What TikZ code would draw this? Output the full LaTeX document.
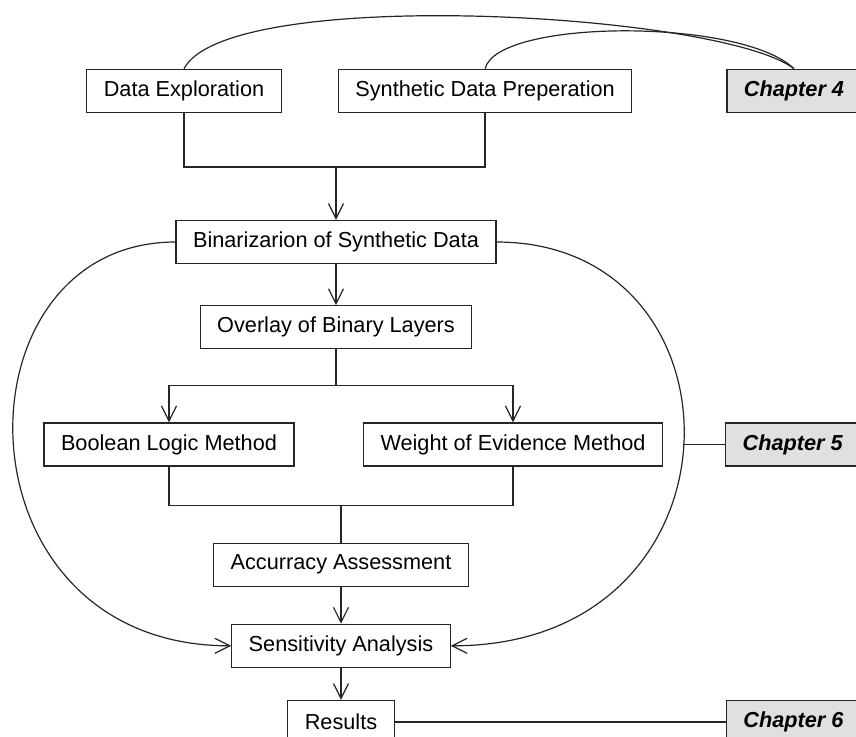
\documentclass[tikz,border=0pt]{standalone}
\usepackage{fontspec}
\setmainfont{Liberation Sans}
\usetikzlibrary{positioning,arrows.meta}

\begin{document}
\begin{tikzpicture}
\tikzstyle{box}=[rectangle, draw=black!85, line width=0.6pt, inner xsep=8.5pt, inner ysep=0pt, minimum height=21.5pt, font=\fontsize{10.85}{13}\selectfont]
\tikzstyle{chapter}=[box, fill=black!12, font=\fontsize{10.85}{13}\selectfont\bfseries\itshape]
\tikzstyle{connect}=[-{Straight Barb[length=7.5pt,width=7.5pt]}, line width=0.6pt, draw=black!85]
\tikzstyle{link}=[line width=0.6pt, draw=black!85]
\useasboundingbox (-168pt,121pt) rectangle (260pt,-247pt);
\clip (-168pt,121pt) rectangle (260pt,-247pt);
% main column
\node[box] (Binar) {Binarizarion of Synthetic Data};
\node[box] (DataExpl) [above=53.5pt of Binar, xshift=-76pt] {Data Exploration};
\node[box] (Synth) [right=28pt of DataExpl] {Synthetic Data Preperation};
\node[box] (Overlay) [below=20.5pt of Binar] {Overlay of Binary Layers};
\node[box] (Boolean) [below=36.5pt of Overlay, xshift=-83.5pt] {Boolean Logic Method};
\node[box] (Weight) [below=36.5pt of Overlay, xshift=88.5pt] {Weight of Evidence Method};
\node[box] (Accur) [below=38pt of Boolean, xshift=86pt] {Accurracy Assessment};
\node[box] (Sensit) [below=18.5pt of Accur] {Sensitivity Analysis};
\node[box] (Results) [below=16pt of Sensit] {Results};
% chapters
\node[chapter] (Ch4) [right=47pt of Synth] {Chapter 4};
\node[chapter] (Ch5) [right=31pt of Weight] {Chapter 5};
\node[chapter] (Ch6) [right=165.5pt of Results] {Chapter 6};
% joins
\path (Binar.north) ++(0,26.5pt) coordinate (j1);
\path (Overlay.south) ++(0,-18pt) coordinate (j2);
\path (Accur.north) ++(0,18.5pt) coordinate (j3);
\path (Ch5.west) ++(-21pt,0) coordinate (ch5end);
\draw[link] (DataExpl.south) |- (j1) -| (Synth.south);
\draw[link] (Overlay.south) -- (j2);
\draw[link] (Boolean.south) |- (j3) -| (Weight.south);
\draw[link] (j3) -- (Accur.north);
\path
  (j1) edge [connect] (Binar.north)
  (Binar.south) edge [connect] (Overlay.north)
  (Accur.south) edge [connect] (Sensit.north)
  (Sensit.south) edge [connect] (Results.north);
\draw[connect] (j2) -| (Boolean.north);
\draw[connect] (j2) -| (Weight.north);
\draw[link] (Results.east) -- (Ch6.west);
\draw[link] (ch5end) -- (Ch5.west);
% loops round the methods
\draw[connect] (Binar.west) .. controls +(-112.5pt,0) and +(-140.5pt,0) .. (Sensit.west);
\draw[connect] (Binar.east) .. controls +(128.5pt,0) and +(151.5pt,0) .. (Sensit.east);
% arcs to chapter 4
\draw[link] (DataExpl.north) .. controls +(22pt,42pt) and +(-36.5pt,28pt) .. (Ch4.north);
\draw[link] (Synth.north) .. controls +(6pt,25pt) and +(-26.5pt,25.5pt) .. (Ch4.north);
\end{tikzpicture}
\end{document}
